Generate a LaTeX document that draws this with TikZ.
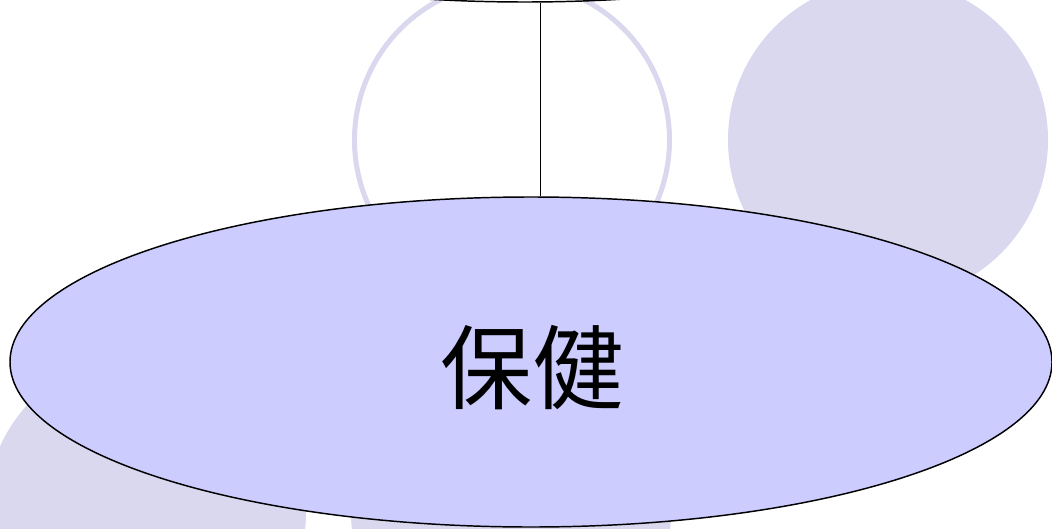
\documentclass[tikz,border=0pt]{standalone}
\usepackage{fontspec}
\newfontfamily\cjk{Noto Sans CJK SC}
\usetikzlibrary{shapes.geometric}
\definecolor{deco}{RGB}{218,216,238}
\definecolor{ellfill}{RGB}{204,204,255}
\tikzset{
  decofill/.style={circle, fill=deco, draw=none, minimum size=240pt, inner sep=0pt},
  decoring/.style={circle, draw=deco, line width=3.75pt, fill=white, minimum size=236.25pt, inner sep=0pt},
  bigell/.style={ellipse, draw=black, line width=1.1pt, fill=ellfill, minimum width=781.5pt, minimum height=247.5pt, inner sep=0pt, font=\cjk\fontsize{69}{80}\selectfont},
  link/.style={draw=black, line width=0.75pt}
}
\begin{document}
\begin{tikzpicture}[x=0.75pt, y=-0.75pt]
\useasboundingbox (0,0) rectangle (1052,528);
\fill[white] (0,0) rectangle (1052,528);
\node[decoring] (c1) at (512,140) {};
\node[decofill] (c2) at (888,140) {};
\node[decofill] (c3) at (146,512) {};
\node[decofill] (c4) at (511,512) {};
\node[bigell, fill=white] (top) at (525,-163) {};
\node[bigell] (main) at (531,362) {};
\node[font=\cjk\fontsize{69}{80}\selectfont] (lbl) at (532,368) {保健};
\draw[link] (main.north -| 540,0) -- (top.south -| 540,0);
\end{tikzpicture}
\end{document}
